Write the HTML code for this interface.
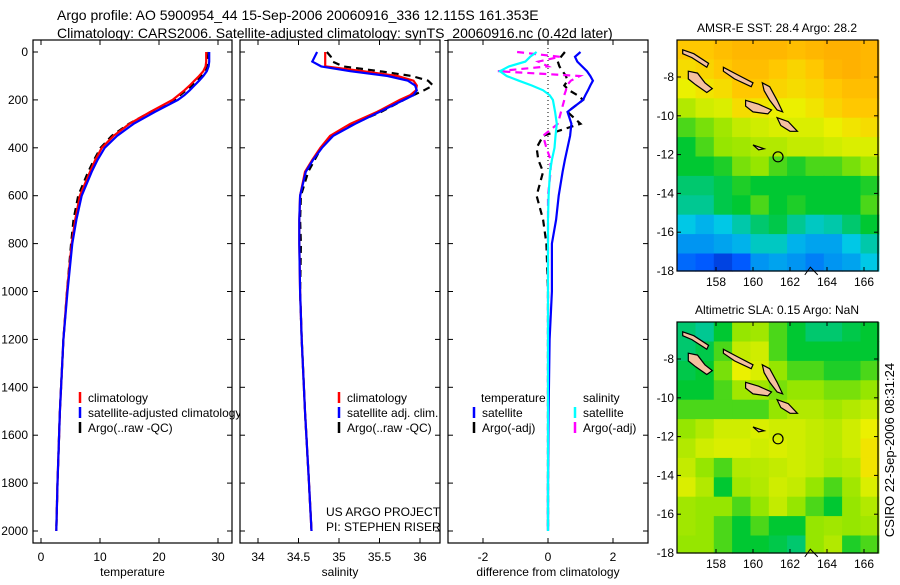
<!DOCTYPE html>
<html><head><meta charset="utf-8"><style>
body{margin:0;background:#fff}
svg text{font-family:"Liberation Sans",sans-serif;fill:#000}
</style></head><body>
<svg id="fig" width="900" height="580" viewBox="0 0 900 580" xmlns="http://www.w3.org/2000/svg">
<text x="57" y="20" font-size="14">Argo profile: AO 5900954_44 15-Sep-2006 20060916_336 12.115S 161.353E</text>
<text x="57" y="38" font-size="14">Climatology: CARS2006. Satellite-adjusted climatology: synTS_20060916.nc (0.42d later)</text>
<g id="g"></g>
<text transform="translate(894,450) rotate(-90)" text-anchor="middle" font-size="13">CSIRO 22-Sep-2006 08:31:24</text>
</svg>
<script>
// ---- data ----
const depths = [0,20,40,60,80,100,120,140,160,180,200,250,300,350,400,450,500,600,700,800,1000,1200,1500,1800,2000];
const tempClim = [28.0,28.0,28.0,27.9,27.5,26.8,26.0,25.2,24.3,23.3,22.3,18.5,15.0,12.3,10.3,9.2,8.3,6.6,5.8,5.2,4.4,3.8,3.2,2.8,2.6];
const tempSat  = [28.5,28.5,28.5,28.4,28.1,27.5,26.8,26.0,25.2,24.3,23.2,19.3,15.7,12.9,10.8,9.6,8.6,6.9,6.0,5.3,4.5,3.8,3.2,2.8,2.6];
const tempArgo = [28.4,28.3,28.2,28.1,27.8,27.2,26.5,25.6,24.6,23.6,22.6,18.6,14.9,12.0,10.1,9.0,8.0,6.3,5.5,5.1,4.4,3.8,3.2,2.8,2.6];
const salClim = [34.83,34.83,34.83,34.83,35.30,35.72,35.92,35.96,35.95,35.88,35.75,35.47,35.14,34.89,34.77,34.67,34.58,34.52,34.51,34.51,34.52,34.54,34.58,34.63,34.66];
const salSat  = [34.73,34.70,34.67,34.78,35.14,35.60,35.85,35.94,35.96,35.92,35.80,35.50,35.20,34.93,34.79,34.68,34.59,34.52,34.51,34.51,34.52,34.54,34.58,34.63,34.66];
const salArgo = [34.85,34.90,34.92,35.05,35.50,35.90,36.10,36.16,36.05,35.92,35.80,35.52,35.18,34.90,34.78,34.70,34.62,34.53,34.52,34.53,34.52,34.54,34.58,34.63,34.66];
const dTempSat = [1.0,0.83,0.9,1.05,1.2,1.3,1.38,1.3,1.23,1.15,1.08,0.6,0.72,0.68,0.6,0.52,0.45,0.33,0.25,0.12,0.12,0.05,0.02,0.0,0.0];
const dTempArgo = [0.52,0.4,0.3,0.35,0.45,0.55,0.6,0.5,0.65,0.9,1.08,0.6,1.0,-0.15,-0.35,-0.3,-0.15,-0.35,-0.15,-0.05,0.0,0.0,0.0,0.0,0.0];
const dSalSat = [-0.35,-0.55,-0.7,-1.2,-1.48,-1.27,-0.9,-0.5,-0.15,0.05,0.15,0.22,0.27,0.23,0.2,0.12,0.06,0.02,0.0,0.0,0.0,0.0,0.0,0.0,0.0];
const dSalArgo = [-0.95,0.37,-0.3,0.0,-1.54,0.98,0.7,0.58,0.55,0.5,0.5,0.4,0.3,-0.15,-0.05,0.08,0.08,0.0,0.0,0.0,0.0,0.0,0.0,0.0,0.0];
const depthTicks = [0,200,400,600,800,1000,1200,1400,1600,1800,2000];
const tempTicks = [0,10,20,30];
const salTicks = [34,34.5,35,35.5,36];
const diffTicks = [-2,0,2];
const lonTicks = [158,160,162,164,166];
const latTicks = [-8,-10,-12,-14,-16,-18];
const sstGrid = [
[0.85,0.85,0.88,0.9,0.9,0.9,0.88,0.9,0.92,0.92,0.9],
[0.8,0.82,0.85,0.88,0.88,0.85,0.82,0.85,0.9,0.92,0.9],
[0.75,0.78,0.8,0.85,0.85,0.82,0.8,0.82,0.85,0.88,0.88],
[0.65,0.7,0.72,0.8,0.78,0.75,0.75,0.78,0.82,0.85,0.85],
[0.55,0.58,0.62,0.68,0.7,0.72,0.72,0.72,0.75,0.78,0.8],
[0.5,0.55,0.6,0.62,0.65,0.65,0.68,0.68,0.7,0.72,0.72],
[0.5,0.5,0.52,0.58,0.6,0.55,0.52,0.55,0.55,0.58,0.62],
[0.45,0.45,0.48,0.52,0.5,0.5,0.5,0.5,0.5,0.5,0.52],
[0.42,0.42,0.48,0.5,0.55,0.5,0.52,0.5,0.5,0.5,0.55],
[0.35,0.32,0.35,0.4,0.45,0.48,0.42,0.38,0.4,0.45,0.5],
[0.28,0.28,0.3,0.32,0.38,0.38,0.32,0.3,0.3,0.35,0.4],
[0.22,0.2,0.15,0.2,0.28,0.3,0.28,0.25,0.28,0.3,0.35]];
const slaGrid = [
[0.45,0.42,0.5,0.6,0.62,0.55,0.5,0.45,0.45,0.48,0.5],
[0.45,0.48,0.55,0.68,0.7,0.55,0.5,0.5,0.5,0.5,0.5],
[0.48,0.5,0.58,0.75,0.72,0.6,0.55,0.55,0.52,0.52,0.55],
[0.5,0.5,0.55,0.62,0.62,0.58,0.6,0.6,0.58,0.58,0.6],
[0.55,0.55,0.55,0.55,0.55,0.6,0.65,0.65,0.62,0.65,0.68],
[0.6,0.65,0.7,0.7,0.72,0.7,0.7,0.68,0.66,0.7,0.75],
[0.65,0.7,0.72,0.72,0.7,0.72,0.7,0.68,0.66,0.7,0.78],
[0.68,0.6,0.55,0.65,0.66,0.68,0.7,0.68,0.64,0.66,0.78],
[0.72,0.65,0.5,0.62,0.65,0.7,0.68,0.6,0.55,0.62,0.72],
[0.62,0.6,0.6,0.55,0.6,0.68,0.6,0.55,0.5,0.6,0.65],
[0.62,0.6,0.55,0.5,0.55,0.5,0.5,0.6,0.62,0.6,0.62],
[0.6,0.6,0.55,0.5,0.5,0.48,0.45,0.6,0.65,0.52,0.55]];
const islands = [
 [[156.2,-6.6],[156.8,-6.8],[157.6,-7.3],[157.5,-7.5],[156.7,-7.0],[156.2,-6.8]],
 [[158.4,-7.5],[159.2,-7.9],[160.0,-8.3],[159.9,-8.5],[159.0,-8.1],[158.4,-7.7]],
 [[156.5,-7.7],[157.0,-7.8],[157.4,-8.3],[157.8,-8.6],[157.5,-8.8],[156.9,-8.4],[156.5,-8.1]],
 [[159.6,-9.2],[160.3,-9.4],[161.0,-9.7],[160.8,-9.9],[160.0,-9.8],[159.6,-9.5]],
 [[160.5,-8.3],[160.9,-8.5],[161.3,-9.2],[161.6,-9.8],[161.3,-9.7],[160.9,-9.2],[160.6,-8.7]],
 [[161.3,-10.1],[161.9,-10.3],[162.4,-10.8],[162.0,-10.8],[161.5,-10.5]],
 [[160.0,-11.5],[160.6,-11.7],[160.3,-11.75]]];
const argoLon = 161.353, argoLat = -12.115;

// ---- drawing ----
const NS='http://www.w3.org/2000/svg', G=document.getElementById('g');
function el(tag, attrs, parent){const e=document.createElementNS(NS,tag);for(const k in attrs)e.setAttribute(k,attrs[k]);(parent||G).appendChild(e);return e;}
function txt(x,y,s,anchor,size,parent){const t=el('text',{x:x,y:y,'text-anchor':anchor||'start','font-size':size||12},parent);t.textContent=s;return t;}
const yD = d => 52 + d*0.2395;
const panels = [
 {x0:33,x1:232,sx:v=>41+v*5.9,ticks:tempTicks,label:'temperature',name:'temperature-panel'},
 {x0:240,x1:440,sx:v=>258+(v-34)*81,ticks:salTicks,label:'salinity',name:'salinity-panel'},
 {x0:448,x1:648,sx:v=>548+v*32.5,ticks:diffTicks,label:'difference from climatology',name:'difference-panel'}];
const TOP=40, BOT=543;
function line(panel, vals, color, dash, name){
  const pts = vals.map((v,i)=>panel.sx(v).toFixed(1)+','+yD(depths[i]).toFixed(1)).join(' ');
  const p=el('polyline',{points:pts,fill:'none',stroke:color,'stroke-width':2.2,'stroke-dasharray':dash||'none','clip-path':'url(#clip'+panels.indexOf(panel)+')'});
  
  
}
const defs=el('defs',{});
panels.forEach((p,i)=>{
  const g=el('g',{});
  
  
  const cp=el('clipPath',{id:'clip'+i},defs); el('rect',{x:p.x0,y:TOP,width:p.x1-p.x0,height:BOT-TOP},cp);
  el('rect',{x:p.x0,y:TOP,width:p.x1-p.x0,height:BOT-TOP,fill:'#fff',stroke:'none'},g);
  p.ticks.forEach(t=>{const x=p.sx(t);el('line',{x1:x,x2:x,y1:BOT,y2:BOT-5,stroke:'#000'},g);el('line',{x1:x,x2:x,y1:TOP,y2:TOP+5,stroke:'#000'},g);txt(x,561,String(t),'middle',12,g);});
  depthTicks.forEach(d=>{const y=yD(d);el('line',{x1:p.x0,x2:p.x0+5,y1:y,y2:y,stroke:'#000'},g);el('line',{x1:p.x1,x2:p.x1-5,y1:y,y2:y,stroke:'#000'},g);});
  txt((p.x0+p.x1)/2,576,p.label,'middle',12,g);
  p.g=g;
});
depthTicks.forEach(d=>txt(28,yD(d)+4,String(d),'end',12));
// panel 1
line(panels[0],tempArgo,'#000','7,5','temp-argo-line');
line(panels[0],tempClim,'#f00','','temp-climatology-line');
line(panels[0],tempSat,'#00f','','temp-satellite-line');
function legend(x,y,color,label,parent,name){const g=el('g',{},parent);el('line',{x1:x,x2:x,y1:y-10,y2:y+1,stroke:color,'stroke-width':2.5},g);txt(x+8,y,label,'start',12,g);}
legend(80,402,'#f00','climatology',null,'legend-climatology');
legend(80,417,'#00f','satellite-adjusted climatology',null,'legend-satellite');
legend(80,432,'#000','Argo(..raw -QC)',null,'legend-argo');
// panel 2 (drawn over panel 1 legend overflow)
G.appendChild(panels[1].g);
line(panels[1],salArgo,'#000','7,5','sal-argo-line');
line(panels[1],salClim,'#f00','','sal-climatology-line');
line(panels[1],salSat,'#00f','','sal-satellite-line');
legend(339,402,'#f00','climatology',null,'legend2-climatology');
legend(339,417,'#00f','satellite adj. clim.',null,'legend2-satellite');
legend(339,432,'#000','Argo(..raw -QC)',null,'legend2-argo');
txt(326,516,'US ARGO PROJECT','start',12);
txt(326,531,'PI: STEPHEN RISER','start',12);
// panel 3
G.appendChild(panels[2].g);
el('line',{x1:548,x2:548,y1:TOP,y2:170,stroke:'#000','stroke-dasharray':'1,3'});
line(panels[2],dTempArgo,'#000','7,5','diff-temp-argo-line');
line(panels[2],dSalArgo,'#f0f','7,5','diff-sal-argo-line');
line(panels[2],dTempSat,'#00f','','diff-temp-satellite-line');
line(panels[2],dSalSat,'#0ff','','diff-sal-satellite-line');
txt(481,402,'temperature','start',12);
txt(583,402,'salinity','start',12);
legend(474,417,'#00f','satellite',null,'legend3-temp-satellite');
legend(474,432,'#000','Argo(-adj)',null,'legend3-temp-argo');
legend(575,417,'#0ff','satellite',null,'legend3-sal-satellite');
legend(575,432,'#f0f','Argo(-adj)',null,'legend3-sal-argo');
// panel borders
panels.forEach(p=>el('rect',{x:p.x0,y:TOP,width:p.x1-p.x0,height:BOT-TOP,fill:'none',stroke:'#000','stroke-width':1.2}));
// ---- maps ----
const stops=[[0,[0,0,140]],[0.2,[0,90,255]],[0.35,[0,200,230]],[0.5,[0,200,50]],[0.6,[150,230,0]],[0.75,[235,240,0]],[0.85,[255,200,0]],[1,[255,150,0]]];
function cmap(v){for(let i=1;i<stops.length;i++){if(v<=stops[i][0]){const a=stops[i-1],b=stops[i],f=(v-a[0])/(b[0]-a[0]);return 'rgb('+a[1].map((c,j)=>Math.round(c+(b[1][j]-c)*f)).join(',')+')';}}return 'rgb(255,150,0)';}
function drawMap(grid, y0, title, name){
  const g=el('g',{});  
  const x0=677,x1=878,h=231, yTop=y0;
  const lx=lon=>716+(lon-158)*18.5, ly=lat=>y0+37+(-8-lat)*19.4;
  const lon0=155.9, lat0=-6.1, nC=grid[0].length, dLon=(166.8-lon0)/nC, dLat=1.0;
  grid.forEach((row,r)=>row.forEach((v,c)=>{
    const xa=lx(lon0+c*dLon), xb=lx(lon0+(c+1)*dLon), ya=ly(lat0-r*dLat), yb=Math.min(ly(lat0-(r+1)*dLat), yTop+h);
    const cell=el('rect',{x:xa.toFixed(1),y:ya.toFixed(1),width:(xb-xa+0.6).toFixed(1),height:(yb-ya+0.6).toFixed(1),fill:cmap(v)},g);
    
    
  }));
  islands.forEach(isl=>{const p=el('polygon',{points:isl.map(q=>lx(q[0]).toFixed(1)+','+ly(q[1]).toFixed(1)).join(' '),fill:'#f5c0a0',stroke:'#000','stroke-width':1.2},g);});
  el('polyline',{points:[[162.8,-18.2],[163.1,-17.8],[163.5,-18.2]].map(q=>lx(q[0])+','+ly(q[1])).join(' '),fill:'none',stroke:'#000'},g);
  const c=el('circle',{cx:lx(argoLon),cy:ly(argoLat),r:5,fill:'none',stroke:'#000','stroke-width':1.2},g);
   
  el('rect',{x:x0,y:yTop,width:x1-x0,height:h,fill:'none',stroke:'#000','stroke-width':1.2},g);
  lonTicks.forEach(l=>{const x=lx(l);el('line',{x1:x,x2:x,y1:yTop+h,y2:yTop+h-4,stroke:'#000'},g);el('line',{x1:x,x2:x,y1:yTop,y2:yTop+4,stroke:'#000'},g);txt(x,yTop+h+15,String(l),'middle',12,g);});
  latTicks.forEach(l=>{const y=ly(l);el('line',{x1:x0,x2:x0+4,y1:y,y2:y,stroke:'#000'},g);el('line',{x1:x1,x2:x1-4,y1:y,y2:y,stroke:'#000'},g);txt(x0-3,y+4,String(l),'end',12,g);});
  txt(777,yTop-8,title,'middle',12,g);
}
drawMap(sstGrid,40,'AMSR-E SST: 28.4 Argo: 28.2','sst-map');
drawMap(slaGrid,322,'Altimetric SLA: 0.15 Argo: NaN','sla-map');
</script>
</body></html>
